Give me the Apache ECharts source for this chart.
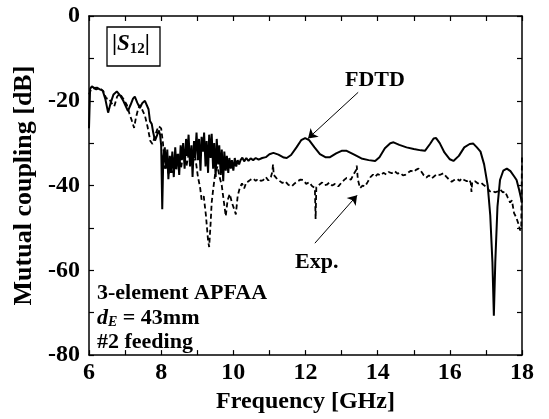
<!DOCTYPE html>
<html>
<head>
<meta charset="utf-8">
<script src="https://cdn.jsdelivr.net/npm/echarts@6/dist/echarts.min.js"></script>
<style>
html,body{margin:0;padding:0;background:#fff;}
#chart{width:549px;height:419px;}
</style>
</head>
<body>
<div id="chart"></div>
<script>
// ---- data ----
const xTicks = [6, 8, 10, 12, 14, 16, 18];
const yTicks = [0, -20, -40, -60, -80];

const fdtdFreq = [6.00,6.03,6.08,6.15,6.22,6.30,6.38,6.45,6.53,6.60,6.68,6.77,6.85,6.95,7.03,7.08,7.15,7.22,7.27,7.34,7.41,7.48,7.55,7.60,7.65,7.69,7.74,7.78,7.83,7.88,7.93,7.97,8.00,8.03,8.06,8.10,
8.13,8.17,8.20,8.24,8.27,8.31,8.35,8.39,8.42,8.46,8.50,8.54,8.57,8.61,8.65,8.69,8.72,8.76,8.80,8.84,8.87,8.91,8.94,8.98,
9.02,9.05,9.09,9.12,9.16,9.19,9.23,9.26,9.30,9.33,9.37,9.40,9.44,9.47,9.51,9.54,9.58,9.61,9.65,9.68,9.72,9.75,9.79,9.82,9.86,9.89,9.93,9.96,
10.00,10.04,10.08,10.12,10.16,10.20,10.25,10.30,10.36,10.42,10.48,10.55,10.62,10.70,10.80,10.90,11.00,11.11,11.25,11.40,11.48,11.60,11.75,11.88,11.99,12.10,12.25,12.40,12.55,12.68,12.85,13.00,13.14,13.35,13.55,13.75,13.93,
14.05,14.20,14.35,14.44,14.60,14.80,15.00,15.20,15.31,15.45,15.55,15.62,15.72,15.85,16.00,16.10,16.25,16.40,16.55,16.65,16.75,16.85,16.95,17.05,17.12,17.18,17.22,17.26,17.32,17.39,17.48,17.58,17.68,17.78,17.85,17.92,18.00];
const fdtdDb = [-26.5,-17.2,-16.6,-17.0,-16.9,-17.3,-17.6,-19.5,-22.8,-20.5,-18.5,-17.8,-18.6,-20.0,-21.5,-22.4,-21.0,-19.5,-19.0,-20.5,-21.7,-20.5,-20.0,-19.8,-22.0,-24.8,-25.5,-27.5,-29.4,-28.3,-27.0,-28.0,-30.5,-45.6,-33.0,-31.0,
-36.0,-31.5,-38.5,-33.0,-37.0,-32.0,-38.0,-31.0,-35.5,-32.5,-37.5,-30.5,-34.0,-30.0,-36.0,-29.0,-33.0,-28.0,-35.5,-30.5,-38.0,-29.5,-33.5,-27.5,
-34.0,-29.0,-36.5,-28.5,-32.0,-27.5,-35.5,-29.5,-37.0,-28.0,-33.5,-27.8,-36.0,-30.0,-38.0,-29.0,-35.0,-30.5,-37.5,-31.5,-39.0,-32.0,-36.5,-33.0,-37.0,-33.5,-36.0,-34.0,
-36.5,-33.5,-35.5,-34.0,-35.0,-34.0,-33.4,-34.3,-33.5,-34.2,-33.6,-34.0,-33.5,-33.9,-33.5,-33.3,-32.6,-32.3,-32.7,-33.4,-33.5,-32.8,-31.0,-29.3,-28.8,-29.3,-31.0,-32.6,-33.3,-33.3,-32.4,-31.8,-31.8,-32.7,-33.6,-34.0,-34.2,
-33.3,-31.2,-30.0,-29.8,-30.4,-31.0,-31.4,-31.7,-31.8,-30.2,-28.9,-28.8,-30.0,-32.2,-33.8,-34.2,-33.0,-31.0,-30.2,-30.1,-31.0,-32.0,-35.0,-40.0,-47.0,-58.0,-70.7,-58.0,-45.0,-38.7,-36.5,-36.0,-36.6,-37.8,-38.7,-41.0,-44.0];

const expFreq = [6.00,6.05,6.12,6.20,6.30,6.40,6.48,6.55,6.62,6.70,6.78,6.85,6.95,7.05,7.12,7.18,7.25,7.30,7.36,7.41,7.47,7.55,7.62,7.70,7.76,7.82,7.88,7.93,8.00,8.05,8.10,
8.15,8.20,8.25,8.30,8.36,8.42,8.48,8.55,8.62,8.70,8.78,8.86,8.94,9.02,9.08,9.12,9.18,9.24,9.30,9.33,9.37,9.40,9.44,9.50,9.56,9.62,9.68,9.74,9.79,9.84,9.90,9.96,10.02,10.07,
10.12,10.18,10.24,10.30,10.36,10.42,10.48,10.55,10.62,10.69,10.76,10.83,10.90,10.97,11.04,11.08,11.10,11.12,11.20,11.28,11.36,11.44,11.52,11.62,11.70,11.78,11.86,11.94,
12.02,12.10,12.18,12.26,12.28,12.30,12.38,12.46,12.52,12.59,12.66,12.74,12.82,12.91,13.00,13.08,13.14,13.19,13.26,13.33,13.40,13.42,13.45,13.51,13.58,13.65,13.72,13.80,13.87,13.93,
14.00,14.08,14.16,14.24,14.31,14.39,14.47,14.55,14.62,14.70,14.76,14.84,14.92,15.00,15.06,15.13,15.20,15.28,15.35,15.42,15.50,15.57,15.64,15.72,15.82,15.90,15.97,
16.05,16.12,16.20,16.27,16.33,16.40,16.47,16.54,16.58,16.60,16.62,16.70,16.78,16.86,16.93,16.98,17.04,17.11,17.18,17.25,17.33,17.40,17.47,17.53,17.61,17.67,17.72,17.78,17.84,17.90,17.95,17.98,18.00];
const expDb = [-18.5,-17.5,-17.0,-17.3,-17.0,-17.8,-19.5,-19.4,-20.5,-21.3,-19.0,-18.3,-19.5,-21.0,-23.0,-24.5,-26.4,-24.0,-22.0,-21.0,-22.0,-23.5,-26.0,-29.5,-30.2,-28.5,-27.0,-26.0,-26.5,-30.0,-36.0,
-33.5,-37.5,-34.0,-37.0,-33.5,-36.5,-32.5,-36.0,-32.0,-35.5,-31.5,-35.0,-33.0,-38.0,-40.5,-43.3,-42.5,-47.0,-53.0,-54.5,-49.0,-44.0,-41.0,-37.0,-35.5,-38.0,-40.0,-44.0,-47.2,-43.5,-42.0,-44.0,-45.5,-46.8,
-42.5,-40.5,-39.5,-40.7,-39.2,-39.0,-38.6,-38.3,-38.9,-38.4,-38.9,-38.7,-38.0,-38.8,-38.0,-36.8,-35.0,-37.5,-38.3,-38.9,-39.4,-39.0,-39.8,-40.2,-39.5,-39.0,-38.6,-38.7,
-39.6,-39.2,-40.1,-40.6,-47.9,-40.4,-39.8,-39.3,-39.9,-39.8,-39.3,-40.0,-39.6,-40.2,-39.3,-38.6,-38.2,-37.9,-38.6,-37.4,-36.4,-35.3,-38.5,-40.6,-40.0,-40.2,-39.2,-38.0,-37.4,-37.9,
-37.3,-37.6,-37.0,-37.4,-36.8,-37.1,-36.6,-37.2,-37.0,-37.6,-37.5,-37.0,-36.5,-36.8,-36.3,-36.0,-36.6,-37.6,-38.1,-37.6,-38.3,-37.8,-37.3,-37.5,-37.1,-37.9,-38.5,
-39.1,-38.7,-38.4,-38.9,-38.3,-38.7,-39.0,-38.6,-39.4,-41.5,-39.1,-39.0,-39.5,-39.3,-39.8,-39.8,-40.5,-41.4,-41.2,-41.6,-41.4,-41.0,-41.6,-41.4,-42.9,-44.0,-43.5,-46.5,-47.5,-49.0,-50.6,-49.5,-33.0];

// arrow annotations (data coordinates: tail -> head)
const fdtdArrow = [[13.46, -18.0], [12.07, -28.9]];
const expArrow = [[12.26, -53.6], [13.43, -42.3]];

const pair = (xs, ys) => xs.map((x, i) => [x, ys[i]]);
const FONT = '"Liberation Serif", "Times New Roman", serif';

const chart = echarts.init(document.getElementById('chart'), null, {renderer: 'canvas'});

const axisCommon = {
  type: 'value',
  axisLine: {show: true, onZero: false, lineStyle: {color: '#000', width: 1.5}},
  axisTick: {show: true, inside: true, length: 5, lineStyle: {color: '#000', width: 1.2}},
  splitLine: {show: false}
};

const arrowMark = (pts) => ({
  silent: true, symbol: ['none', 'arrow'], symbolSize: 9,
  label: {show: false}, lineStyle: {color: '#000', width: 1, type: 'solid'},
  emphasis: {disabled: true},
  data: [[{coord: pts[0]}, {coord: pts[1]}]]
});

chart.setOption({
  animation: false,
  backgroundColor: '#fff',
  grid: {left: 89, right: 27, top: 16, bottom: 57, containLabel: false},
  xAxis: [
    Object.assign({}, axisCommon, {
      min: 6, max: 18, interval: 1, position: 'bottom',
      name: 'Frequency [GHz]', nameLocation: 'middle', nameGap: 30,
      nameTextStyle: {fontFamily: FONT, fontWeight: 'bold', fontSize: 24, color: '#000'},
      axisLabel: {
        margin: 6, fontFamily: FONT, fontWeight: 'bold', fontSize: 24, color: '#000',
        formatter: v => xTicks.indexOf(v) >= 0 ? String(v) : ''
      }
    }),
    Object.assign({}, axisCommon, {
      min: 6, max: 18, interval: 1, position: 'top', axisLabel: {show: false}
    })
  ],
  yAxis: [
    Object.assign({}, axisCommon, {
      min: -80, max: 0, interval: 10, position: 'left',
      name: 'Mutual coupling [dB]', nameLocation: 'middle', nameGap: 50,
      nameTextStyle: {fontFamily: FONT, fontWeight: 'bold', fontSize: 26, color: '#000'},
      axisLabel: {
        margin: 9, fontFamily: FONT, fontWeight: 'bold', fontSize: 24, color: '#000',
        formatter: v => yTicks.indexOf(v) >= 0 ? String(v) : ''
      }
    }),
    Object.assign({}, axisCommon, {
      min: -80, max: 0, interval: 10, position: 'right', axisLabel: {show: false}
    })
  ],
  series: [
    {
      name: 'Exp.', type: 'line', data: pair(expFreq, expDb), showSymbol: false,
      lineStyle: {color: '#000', width: 1.8, type: [5, 3]}, z: 2,
      markLine: arrowMark(expArrow)
    },
    {
      name: 'FDTD', type: 'line', data: pair(fdtdFreq, fdtdDb), showSymbol: false,
      lineStyle: {color: '#000', width: 2}, z: 3,
      markLine: arrowMark(fdtdArrow)
    }
  ],
  graphic: [
    {type: 'rect', shape: {x: 107, y: 27, width: 53, height: 39}, style: {fill: '#fff', stroke: '#000', lineWidth: 1.3}, z: 10},
    {type: 'text', left: 112, top: 33, z: 11, style: {
      text: '{a||}{s|S}{b|12}{a||}',
      rich: {
        a: {fontFamily: FONT, fontWeight: 'bold', fontSize: 23, fill: '#000'},
        s: {fontFamily: FONT, fontWeight: 'bold', fontStyle: 'italic', fontSize: 23, fill: '#000'},
        b: {fontFamily: FONT, fontWeight: 'bold', fontSize: 15, fill: '#000', padding: [10, 0, 0, 0]}
      }
    }},
    {type: 'text', left: 345, top: 69, z: 11, style: {text: 'FDTD', fontFamily: FONT, fontWeight: 'bold', fontSize: 22, fill: '#000'}},
    {type: 'text', left: 295, top: 251, z: 11, style: {text: 'Exp.', fontFamily: FONT, fontWeight: 'bold', fontSize: 22, fill: '#000'}},
    {type: 'text', left: 97, top: 282, z: 11, style: {text: '3-element APFAA', fontFamily: FONT, fontWeight: 'bold', fontSize: 22, fill: '#000'}},
    {type: 'text', left: 97, top: 307, z: 11, style: {
      text: '{i|d}{e|E}{n| = 43mm}',
      rich: {
        i: {fontFamily: FONT, fontWeight: 'bold', fontStyle: 'italic', fontSize: 22, fill: '#000'},
        e: {fontFamily: FONT, fontWeight: 'bold', fontStyle: 'italic', fontSize: 14, fill: '#000', padding: [9, 0, 0, 0]},
        n: {fontFamily: FONT, fontWeight: 'bold', fontSize: 22, fill: '#000'}
      }
    }},
    {type: 'text', left: 97, top: 331, z: 11, style: {text: '#2 feeding', fontFamily: FONT, fontWeight: 'bold', fontSize: 22, fill: '#000'}}
  ]
});
</script>
</body>
</html>
